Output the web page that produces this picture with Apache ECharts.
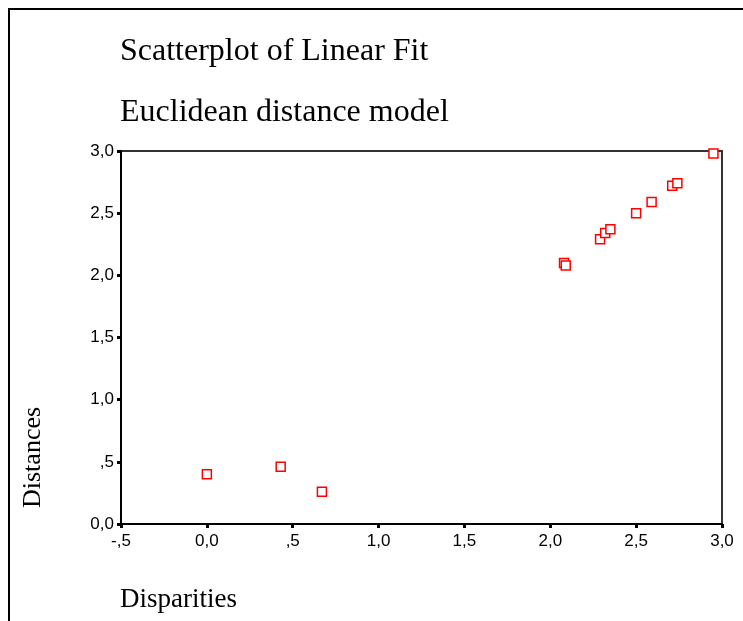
<!DOCTYPE html>
<html>
<head>
<meta charset="utf-8">
<script src="https://cdn.jsdelivr.net/npm/echarts@6/dist/echarts.min.js"></script>
<style>
  html, body { margin: 0; padding: 0; background: #fff; }
  #chart { width: 743px; height: 621px; }
</style>
</head>
<body>
<div id="chart"></div>
<script>
// disparities (x) and distances (y)
const disparities = [0.00, 0.43, 0.67, 2.08, 2.09, 2.29, 2.32, 2.35, 2.50, 2.59, 2.71, 2.74, 2.95]
const distances = [0.40, 0.46, 0.26, 2.10, 2.08, 2.29, 2.34, 2.37, 2.50, 2.59, 2.72, 2.74, 2.98]
const titleLines = ['Scatterplot of Linear Fit', 'Euclidean distance model']

const points = disparities.map((x, i) => [x, distances[i]])

// SPSS style tick labels: comma decimal, no leading zero
function fmt(v) {
  if (Math.abs(v) < 1e-9) return '0,0'
  let s = Math.abs(v).toFixed(1).replace('.', ',')
  if (Math.abs(v) < 1) s = s.slice(1)
  return (v < 0 ? '-' : '') + s
}

const serif = '"Liberation Serif", "Times New Roman", serif'
const sans = '"Liberation Sans", Arial, sans-serif'

const axisCommon = {
  type: 'value',
  interval: 0.5,
  splitLine: { show: false },
  axisLine: { onZero: false, lineStyle: { color: '#000', width: 2 } },
  axisTick: { length: 4, lineStyle: { color: '#000', width: 3 } },
  axisLabel: { color: '#000', fontFamily: sans, fontSize: 17, formatter: fmt }
}

const chart = echarts.init(document.getElementById('chart'))
chart.setOption({
  animation: false,
  graphic: [
    { type: 'rect', shape: { x: 9, y: 9, width: 800, height: 700 },
      style: { fill: 'none', stroke: '#000', lineWidth: 2 } },
    { type: 'text', left: 120, top: 36,
      style: { text: titleLines[0], font: '32px ' + serif, fill: '#000' } },
    { type: 'text', left: 120, top: 97,
      style: { text: titleLines[1], font: '32px ' + serif, fill: '#000' } },
    { type: 'text', left: 120, top: 586,
      style: { text: 'Disparities', font: '27px ' + serif, fill: '#000' } },
    { type: 'text', x: 20, y: 508, rotation: Math.PI / 2,
      style: { text: 'Distances', font: '26px ' + serif, fill: '#000' } }
  ],
  grid: {
    left: 121, right: 21, top: 151, bottom: 97,
    show: true, borderColor: '#333', borderWidth: 2
  },
  xAxis: Object.assign({}, axisCommon, {
    min: -0.5, max: 3,
    axisLabel: Object.assign({}, axisCommon.axisLabel, { margin: 9 })
  }),
  yAxis: Object.assign({}, axisCommon, {
    min: 0, max: 3,
    axisLabel: Object.assign({}, axisCommon.axisLabel, { margin: 7 })
  }),
  series: [{
    type: 'scatter',
    data: points,
    symbol: 'rect',
    symbolSize: 9,
    itemStyle: { color: '#fff', borderColor: '#ff0000', borderWidth: 1.5, opacity: 1 }
  }]
})
</script>
</body>
</html>
